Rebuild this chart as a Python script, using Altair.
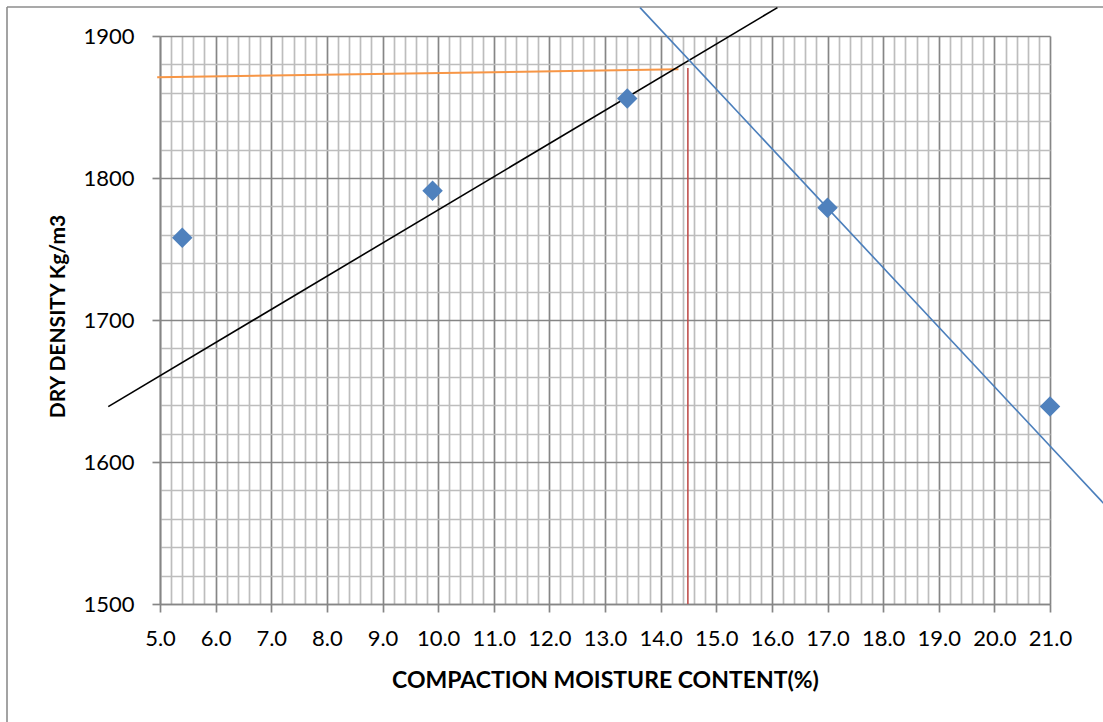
import altair as alt
import pandas as pd

# Measured points (diamonds)
moisture = [5.4, 9.9, 13.4, 17.0, 21.0]
density = [1758, 1791, 1856, 1779, 1639]

# Hand-drawn construction lines (end points)
black_x = [4.07, 16.10]
black_y = [1639, 1920]
blue_x = [13.63, 21.96]
blue_y = [1920, 1571]
orange_x = [4.95, 14.32]
orange_y = [1871, 1876.5]
red_x = [14.49, 14.49]
red_y = [1877.5, 1500]

# Axis tick values
x_ticks = [round(5 + 0.2 * i, 1) for i in range(81)]
y_ticks = list(range(1500, 1901, 20))

FONT = "Lato"

pts = pd.DataFrame({"x": moisture, "y": density})

def seg(xs, ys):
    return pd.DataFrame({"x": xs, "y": ys})

is_major_x = "abs(datum.value - round(datum.value)) < 0.01"
is_major_y = "datum.value % 100 == 0"

xscale = alt.Scale(domain=[5, 21], nice=False, zero=False)
yscale = alt.Scale(domain=[1500, 1900], nice=False, zero=False)

xaxis = alt.Axis(
    values=x_ticks,
    tickCount=1000,
    labelExpr=f"{is_major_x} ? format(datum.value, '.1f') : ''",
    grid=True,
    gridColor={"condition": {"test": is_major_x, "value": "#868686"}, "value": "#bdbdbd"},
    gridWidth=1.7,
    tickOpacity={"condition": {"test": is_major_x, "value": 1}, "value": 0},
    tickColor="#868686", tickSize=8, tickWidth=1.7,
    domainColor="#868686", domainWidth=1.7,
    labelFont=FONT, labelFontSize=22, labelColor="#000000", labelPadding=16,
    labelOverlap=False, labelFlush=False,
    title="COMPACTION MOISTURE CONTENT(%)",
    titleFont=FONT, titleFontSize=23, titleFontWeight="bold", titleColor="#000000",
    titleY=83, titleBaseline="alphabetic",
)

yaxis = alt.Axis(
    values=y_ticks,
    tickCount=1000,
    labelExpr=f"{is_major_y} ? format(datum.value, 'd') : ''",
    grid=True,
    gridColor={"condition": {"test": is_major_y, "value": "#868686"}, "value": "#bdbdbd"},
    gridWidth=1.7,
    tickOpacity={"condition": {"test": is_major_y, "value": 1}, "value": 0},
    tickColor="#868686", tickSize=8, tickWidth=1.7,
    domainColor="#868686", domainWidth=1.7,
    labelFont=FONT, labelFontSize=22, labelColor="#000000", labelPadding=18,
    labelOverlap=False,
    title="DRY DENSITY Kg/m3",
    titleFont=FONT, titleFontSize=21, titleFontWeight="bold", titleColor="#000000",
    titleAngle=-90, titleX=-102, titleY=280, titleAlign="center", titleBaseline="middle",
)

points = alt.Chart(pts).mark_point(
    shape="diamond", filled=True, size=420, color="#4F81BD", opacity=1, clip=False
).encode(
    x=alt.X("x:Q", scale=xscale, axis=xaxis),
    y=alt.Y("y:Q", scale=yscale, axis=yaxis),
)

def line(xs, ys, color, width):
    return alt.Chart(seg(xs, ys)).mark_line(color=color, strokeWidth=width, clip=False).encode(
        x=alt.X("x:Q", scale=xscale, axis=xaxis),
        y=alt.Y("y:Q", scale=yscale, axis=yaxis),
    )

black = line(black_x, black_y, "#000000", 1.6)
blue = line(blue_x, blue_y, "#4A7EBB", 1.6)
orange = line(orange_x, orange_y, "#F79646", 2)
red = line(red_x, red_y, "#C0504D", 1.6)

frame_df = pd.DataFrame({"a": [0]})
frame_top = alt.Chart(frame_df).mark_rule(color="#8c8c8c", strokeWidth=1.6, clip=False).encode(
    x=alt.value(-153), x2=alt.value(943), y=alt.value(-29)
)
frame_left = alt.Chart(frame_df).mark_rule(color="#8c8c8c", strokeWidth=1.6, clip=False).encode(
    x=alt.value(-153), y=alt.value(-29), y2=alt.value(686)
)

chart = alt.layer(
    frame_top, frame_left, orange, red, black, blue, points
).properties(
    width=890, height=568,
    padding={"left": 160, "top": 36, "right": 53, "bottom": 118},
    autosize=alt.AutoSizeParams(type="none"),
    background="#ffffff",
).configure_view(stroke=None)

chart.save("out.html", embed_options={"renderer": "svg", "actions": False})
